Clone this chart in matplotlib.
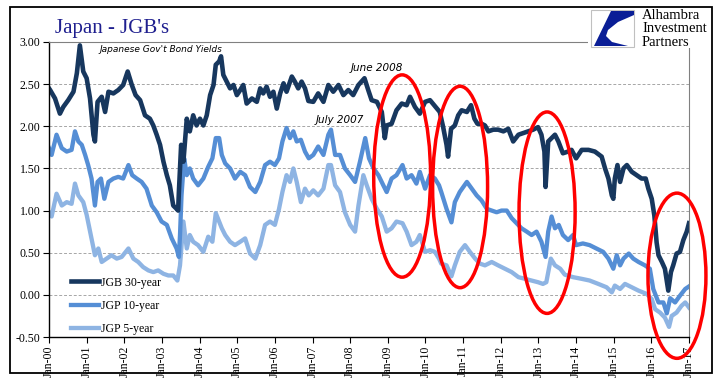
import numpy as np
import matplotlib
matplotlib.use("Agg")
import matplotlib.pyplot as plt
from matplotlib.patches import Ellipse, Rectangle, Polygon

# years after Jan-2000, yield (%)
t30 = [0.0, 0.03, 0.16, 0.29, 0.38, 0.51, 0.65, 0.74, 0.82, 0.91, 1.0, 1.09, 1.18, 1.22, 1.29, 1.40, 1.49, 1.58, 1.71, 1.84,
       1.97, 2.09, 2.20, 2.30, 2.42, 2.55, 2.68, 2.77, 2.86, 2.95, 3.04, 3.13, 3.21, 3.30, 3.39, 3.43, 3.45, 3.51, 3.57, 3.66,
       3.74, 3.83, 3.92, 4.01, 4.10, 4.19, 4.28, 4.37, 4.43, 4.52, 4.57, 4.63, 4.72, 4.81, 4.90, 4.99, 5.08, 5.16, 5.25, 5.39,
       5.52, 5.61, 5.69, 5.78, 5.87, 5.96, 6.05, 6.14, 6.23, 6.31, 6.45, 6.53, 6.62, 6.71, 6.80, 6.89, 7.02, 7.15, 7.29, 7.42,
       7.55, 7.69, 7.82, 7.95, 8.08, 8.22, 8.38, 8.48, 8.57, 8.71, 8.84, 8.92, 8.97, 9.10, 9.23, 9.37, 9.50, 9.59, 9.72, 9.85,
       9.99, 10.12, 10.25, 10.38, 10.47, 10.56, 10.60, 10.68, 10.78, 10.87, 10.96, 11.10, 11.21, 11.30, 11.38, 11.49, 11.58,
       11.67, 11.80, 11.93, 12.07, 12.20, 12.33, 12.47, 12.60, 12.73, 12.86, 12.99, 13.08, 13.16, 13.19, 13.26, 13.35, 13.44,
       13.53, 13.65, 13.79, 13.88, 14.00, 14.15, 14.33, 14.50, 14.68, 14.77, 14.86, 14.95, 14.99, 15.03, 15.10, 15.17, 15.26,
       15.35, 15.48, 15.61, 15.74, 15.85, 15.92, 16.01, 16.08, 16.14, 16.19, 16.28, 16.36, 16.45, 16.52, 16.58, 16.67, 16.76,
       16.85, 16.94, 17.0]
y30 = [2.45, 2.43, 2.33, 2.15, 2.23, 2.31, 2.41, 2.63, 2.96, 2.65, 2.57, 2.33, 1.90, 1.82, 2.29, 2.35, 2.17, 2.41, 2.39, 2.43,
       2.49, 2.65, 2.49, 2.37, 2.31, 2.13, 2.09, 2.01, 1.90, 1.78, 1.58, 1.42, 1.30, 1.06, 1.02, 1.00, 1.22, 1.78, 1.58, 2.09,
       1.94, 2.13, 2.01, 2.09, 2.01, 2.13, 2.37, 2.49, 2.73, 2.77, 2.83, 2.61, 2.53, 2.45, 2.49, 2.37, 2.43, 2.49, 2.27, 2.33,
       2.29, 2.45, 2.39, 2.47, 2.35, 2.41, 2.21, 2.39, 2.51, 2.41, 2.59, 2.53, 2.45, 2.53, 2.45, 2.30, 2.29, 2.39, 2.29, 2.49,
       2.41, 2.49, 2.37, 2.43, 2.37, 2.49, 2.57, 2.43, 2.31, 2.29, 2.17, 1.86, 2.01, 2.03, 2.19, 2.27, 2.25, 2.35, 2.23, 2.15,
       2.29, 2.31, 2.24, 2.17, 1.99, 1.78, 1.64, 1.97, 2.01, 2.13, 2.19, 2.17, 2.25, 2.09, 2.03, 2.03, 2.01,
       1.94, 1.96, 1.96, 1.94, 1.97, 1.82, 1.90, 1.92, 1.94, 1.96, 1.99, 1.90, 1.70, 1.28, 1.82, 1.86, 1.90,
       1.82, 1.68, 1.70, 1.72, 1.62, 1.72, 1.72, 1.70, 1.64, 1.50, 1.38, 1.18, 1.14, 1.38, 1.54, 1.34, 1.50,
       1.54, 1.46, 1.42, 1.38, 1.38, 1.26, 1.14, 0.94, 0.62, 0.47, 0.39, 0.31, 0.05, 0.27, 0.35, 0.49, 0.51,
       0.65, 0.75, 0.85]

t10 = [0.0, 0.07, 0.20, 0.34, 0.47, 0.60, 0.69, 0.78, 0.87, 0.96, 1.04, 1.13, 1.22, 1.29, 1.38, 1.47, 1.58, 1.71, 1.84, 1.97,
       2.11, 2.21, 2.33, 2.46, 2.59, 2.73, 2.86, 2.99, 3.13, 3.26, 3.39, 3.45, 3.48, 3.52, 3.59, 3.66, 3.74, 3.83, 3.96, 4.10,
       4.23, 4.34, 4.43, 4.52, 4.59, 4.68, 4.81, 4.94, 5.08, 5.21, 5.34, 5.48, 5.61, 5.74, 5.87, 6.00, 6.11, 6.20, 6.31, 6.40,
       6.49, 6.58, 6.69, 6.80, 6.90, 7.02, 7.15, 7.29, 7.42, 7.49, 7.60, 7.73, 7.86, 8.00, 8.13, 8.26, 8.40, 8.50, 8.62, 8.75,
       8.88, 8.97, 9.10, 9.23, 9.39, 9.50, 9.63, 9.76, 9.85, 9.99, 10.12, 10.25, 10.36, 10.42, 10.56, 10.69, 10.78, 10.91,
       11.10, 11.23, 11.36, 11.49, 11.63, 11.76, 11.89, 12.02, 12.16, 12.29, 12.42, 12.55, 12.69, 12.82, 12.95, 13.08, 13.19,
       13.26, 13.35, 13.44, 13.54, 13.65, 13.79, 13.92, 14.00, 14.18, 14.36, 14.54, 14.72, 14.86, 14.99, 15.08, 15.17, 15.26,
       15.40, 15.52, 15.66, 15.83, 15.96, 16.05, 16.19, 16.32, 16.41, 16.50, 16.63, 16.76, 16.90, 17.0]
y10 = [1.74, 1.66, 1.90, 1.74, 1.70, 1.72, 1.94, 1.82, 1.78, 1.66, 1.54, 1.38, 1.06, 1.34, 1.38, 1.14, 1.34, 1.38, 1.40, 1.38,
       1.54, 1.42, 1.38, 1.34, 1.26, 1.06, 0.98, 0.87, 0.83, 0.67, 0.55, 0.45, 0.71, 1.18, 1.62, 1.42, 1.50, 1.38, 1.30, 1.38,
       1.52, 1.62, 1.86, 1.86, 1.66, 1.56, 1.50, 1.38, 1.46, 1.42, 1.28, 1.22, 1.34, 1.54, 1.58, 1.54, 1.62, 1.82, 1.98, 1.86,
       1.94, 1.82, 1.84, 1.70, 1.62, 1.66, 1.76, 1.66, 1.90, 1.96, 1.66, 1.66, 1.50, 1.42, 1.34, 1.58, 1.86, 1.62, 1.50, 1.42,
       1.30, 1.22, 1.38, 1.42, 1.54, 1.38, 1.42, 1.32, 1.46, 1.26, 1.42, 1.38, 1.30, 1.22, 1.02, 0.86, 1.10, 1.22,
       1.34, 1.26, 1.18, 1.12, 1.02, 1.00, 0.98, 1.00, 1.00, 0.91, 0.85, 0.79, 0.75, 0.71, 0.75, 0.63, 0.45,
       0.75, 0.93, 0.79, 0.83, 0.71, 0.65, 0.71, 0.59, 0.61, 0.59, 0.55, 0.51, 0.43, 0.31, 0.47, 0.35, 0.43,
       0.49, 0.43, 0.39, 0.35, 0.31, 0.07, -0.09, -0.09, -0.22, -0.04, -0.09, -0.01, 0.07, 0.10]

t5 = [0.0, 0.07, 0.20, 0.34, 0.47, 0.60, 0.69, 0.78, 0.91, 1.00, 1.13, 1.22, 1.31, 1.40, 1.53, 1.66, 1.80, 1.93, 2.11, 2.24,
      2.37, 2.50, 2.64, 2.77, 2.90, 3.04, 3.17, 3.30, 3.41, 3.48, 3.57, 3.66, 3.74, 3.83, 3.96, 4.10, 4.23, 4.34, 4.43, 4.52,
      4.59, 4.68, 4.81, 4.94, 5.08, 5.21, 5.34, 5.48, 5.61, 5.74, 5.87, 6.00, 6.11, 6.20, 6.31, 6.40, 6.49, 6.58, 6.69, 6.80,
      6.90, 7.02, 7.15, 7.29, 7.42, 7.49, 7.60, 7.73, 7.86, 8.00, 8.13, 8.22, 8.35, 8.44, 8.57, 8.71, 8.84, 8.97, 9.10, 9.23,
      9.39, 9.50, 9.63, 9.76, 9.85, 9.99, 10.12, 10.25, 10.36, 10.42, 10.56, 10.69, 10.78, 10.91, 11.05, 11.18, 11.32, 11.45,
      11.58, 11.76, 11.93, 12.11, 12.29, 12.47, 12.64, 12.82, 12.99, 13.12, 13.21, 13.33, 13.44, 13.58, 13.70, 13.92, 14.15,
      14.36, 14.59, 14.81, 14.95, 15.03, 15.17, 15.30, 15.48, 15.66, 15.88, 16.01, 16.10, 16.23, 16.36, 16.47, 16.54, 16.67,
      16.80, 16.90, 17.0]
y5 = [0.98, 0.93, 1.20, 1.06, 1.10, 1.08, 1.32, 1.18, 1.10, 0.95, 0.67, 0.47, 0.55, 0.39, 0.43, 0.47, 0.43, 0.45, 0.55, 0.43,
      0.39, 0.33, 0.29, 0.27, 0.29, 0.25, 0.23, 0.23, 0.17, 0.35, 0.87, 0.55, 0.71, 0.63, 0.59, 0.51, 0.69, 0.63, 0.97, 0.87,
      0.79, 0.71, 0.63, 0.59, 0.63, 0.67, 0.49, 0.43, 0.59, 0.83, 0.87, 0.83, 1.02, 1.22, 1.42, 1.34, 1.50, 1.34, 1.10, 1.26,
      1.18, 1.24, 1.18, 1.26, 1.54, 1.54, 1.30, 1.22, 0.98, 0.83, 0.75, 1.06, 1.42, 1.30, 1.14, 1.02, 0.93, 0.75, 0.79, 0.87,
      0.85, 0.75, 0.59, 0.63, 0.71, 0.51, 0.53, 0.51, 0.43, 0.37, 0.35, 0.22, 0.35, 0.51, 0.59, 0.51, 0.43, 0.37,
      0.35, 0.39, 0.35, 0.31, 0.27, 0.21, 0.19, 0.17, 0.15, 0.13, 0.15, 0.43, 0.35, 0.31, 0.24, 0.21, 0.19,
      0.17, 0.13, 0.09, 0.03, 0.11, 0.07, 0.13, 0.09, 0.05, 0.01, -0.05, -0.17, -0.21, -0.27, -0.38, -0.25, -0.21,
      -0.13, -0.09, -0.15]

labels = ["JGB 30-year", "JGP 10-year", "JGP 5-year"]
years = list(range(2000, 2018))
xlabels = ["Jan-%02d" % (y % 100) for y in years]

W, H = 721, 381
fig = plt.figure(figsize=(W / 100, H / 100), dpi=100)

def px(x, y):
    return x / W, 1 - y / H

ax = fig.add_axes([49 / W, 1 - 337 / H, (689 - 49) / W, (337 - 42) / H])

c30, c10, c5 = "#17375E", "#558ED5", "#8EB4E3"
l5, = ax.plot(2000 + np.array(t5), y5, color=c5, lw=3.1, solid_joinstyle="round")
l10, = ax.plot(2000 + np.array(t10), y10, color=c10, lw=3.1, solid_joinstyle="round")
l30, = ax.plot(2000 + np.array(t30), y30, color=c30, lw=3.3, solid_joinstyle="round")

ax.set_xlim(2000, 2017)
ax.set_ylim(-0.5, 3.0)
ax.set_yticks(np.arange(-0.5, 3.01, 0.5))
ax.set_yticklabels(["%.2f" % v for v in np.arange(-0.5, 3.01, 0.5)], family="Liberation Serif", fontsize=8.5)
ax.set_xticks(years)
ax.set_xticklabels(xlabels, rotation=90, family="Liberation Serif", fontsize=8.5)
ax.tick_params(axis="both", length=4, width=0.8, direction="out", pad=2)
for v in np.arange(-0.5, 3.01, 0.5)[1:-1]:
    ax.axhline(v, color="#A6A6A6", lw=0.7, ls=(0, (3, 2)), zorder=0)
for s in ["top", "right"]:
    ax.spines[s].set_color("#808080")
for s in ["left", "bottom"]:
    ax.spines[s].set_color("black")
    ax.spines[s].set_linewidth(1.0)

leg = ax.legend([l30, l10, l5], labels, loc="upper left", bbox_to_anchor=px(60, 266),
                bbox_transform=fig.transFigure, frameon=False, handlelength=2.4,
                labelspacing=0.95, handletextpad=0.2, prop={"family": "Liberation Serif", "size": 8.5})

# red ellipses
for cx, cy, w, h in [(9.38, 1.41, 1.51, 2.40), (10.92, 1.28, 1.46, 2.39),
                     (13.23, 0.975, 1.49, 2.39), (16.68, 0.227, 1.54, 1.96)]:
    ax.add_patch(Ellipse((2000 + cx, cy), w, h, fill=False, ec="#FF0000", lw=2.5, clip_on=False, zorder=5))

ax.text(2008.72, 2.69, "June 2008", style="italic", family="DejaVu Sans", fontsize=7.5, ha="center", va="center")
ax.text(2007.72, 2.07, "July 2007", style="italic", family="DejaVu Sans", fontsize=7.5, ha="center", va="center")

fig.text(*px(99, 49), "Japanese Gov't Bond Yields", style="italic", family="DejaVu Sans", fontsize=6.5,
         va="center", ha="left")
fig.text(*px(55, 33), "Japan - JGB's", family="Liberation Serif", fontsize=15, color="#1F1F8F", va="baseline")

# logo
fig.patches.append(Rectangle(px(588, 48), 122 / W, 40 / H, transform=fig.transFigure, fc="white", ec="none", zorder=3))
fig.patches.append(Rectangle(px(591, 47), 43 / W, 37 / H, transform=fig.transFigure, fc="white", ec="#C0C0C0", lw=0.8, zorder=4))
logo = [(611, 11), (634, 11), (634, 15), (618, 22), (608, 30), (606, 36), (612, 42), (628, 46), (594, 46)]
fig.patches.append(Polygon([px(x, y) for x, y in logo], closed=True, transform=fig.transFigure, fc="#0A1E96", ec="none", zorder=5))
for i, word in enumerate(["Alhambra", "Investment", "Partners"]):
    fig.text(*px(642, 19 + i * 13.5), word, family="Liberation Serif", fontsize=10.5, va="baseline", zorder=6)

# outer border
fig.patches.append(Rectangle(px(10, 373), 702 / W, 366 / H, transform=fig.transFigure, fill=False, ec="black", lw=1.3))

fig.savefig("out.png", dpi=100)
